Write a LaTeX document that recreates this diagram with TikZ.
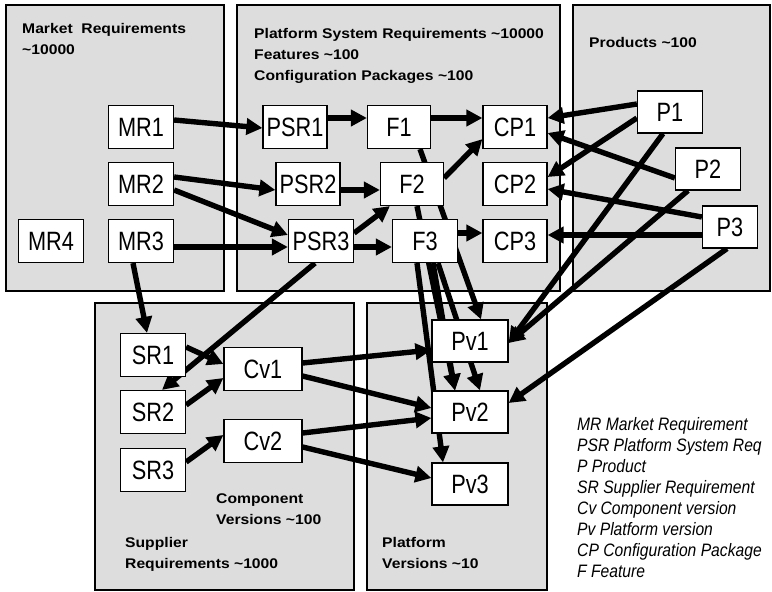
\documentclass[tikz,border=0pt]{standalone}
\usepackage{fontspec}
\setmainfont{Liberation Sans}
\newfontfamily\boxfont[FakeStretch=0.82]{Liberation Sans}
\newfontfamily\headfont[FakeStretch=1.12]{Liberation Sans}
\newfontfamily\keyfont[FakeStretch=0.87]{Liberation Sans}
\usetikzlibrary{arrows.meta,calc}
\definecolor{panelgray}{RGB}{221,221,221}
\pgfdeclarelayer{panels}
\pgfdeclarelayer{links}
\pgfsetlayers{panels,links,main}
\tikzset{
  box/.style={draw,fill=white,line width=1.2pt,inner sep=0pt,minimum height=43pt,minimum width=65pt,font=\boxfont\fontsize{26.5}{28}\selectfont},
  panel/.style={draw,fill=panelgray,line width=1.3pt},
  head/.style={anchor=north west,inner sep=0pt,align=left,font=\headfont\bfseries\fontsize{14}{21}\selectfont},
  key/.style={anchor=north west,inner sep=0pt,align=left,font=\keyfont\itshape\fontsize{18}{21}\selectfont},
  link/.style={line width=5.4pt,-{Triangle[length=16pt,width=16pt]}}
}
\begin{document}
\begin{tikzpicture}[x=1pt,y=-1pt]
\useasboundingbox (0,0) rectangle (772,592);
% the five areas
\begin{pgfonlayer}{panels}
\draw[panel] (6,5) rectangle (224,291);
\draw[panel] (237,5) rectangle (560,291);
\draw[panel] (573,5) rectangle (770,291);
\draw[panel] (95,303) rectangle (354,590);
\draw[panel] (367,303) rectangle (547,590);
\end{pgfonlayer}
\node[head] (mrhead) at (22,23) {Market\ \ Requirements\\\textasciitilde10000};
\node[head] (psrhead) at (254,28) {Platform System Requirements \textasciitilde10000\\Features \textasciitilde100\\Configuration Packages \textasciitilde100};
\node[head] (phead) at (589,37) {Products \textasciitilde100};
\node[head] (cvhead) at (216,494) {Component\\Versions \textasciitilde100};
\node[head] (srhead) at (125,537) {Supplier\\Requirements \textasciitilde1000};
\node[head] (pvhead) at (382,537) {Platform\\Versions \textasciitilde10};
% market requirements
\node[box] (MR1) at (141,127) {MR1};
\node[box] (MR2) at (141,184) {MR2};
\node[box] (MR3) at (141,241) {MR3};
\node[box] (MR4) at (51,241) {MR4};
% platform system requirements, features, packages
\node[box,minimum width=64pt] (PSR1) at (295,127) {PSR1};
\node[box,minimum width=64pt] (PSR2) at (308,184) {PSR2};
\node[box] (PSR3) at (321,241) {PSR3};
\node[box,minimum width=63pt] (F1) at (399,127) {F1};
\node[box,minimum width=63pt] (F2) at (412,184) {F2};
\node[box] (F3) at (425,241) {F3};
\node[box,minimum width=64pt] (CP1) at (515,127) {CP1};
\node[box,minimum width=64pt] (CP2) at (515,184) {CP2};
\node[box,minimum width=64pt] (CP3) at (515,241) {CP3};
% products
\node[box,minimum height=42pt] (P1) at (670,112) {P1};
\node[box,minimum height=42pt] (P2) at (708,169) {P2};
\node[box,minimum height=42pt,minimum width=55pt] (P3) at (730,227) {P3};
% supplier side
\node[box] (SR1) at (153,355) {SR1};
\node[box] (SR2) at (153,412) {SR2};
\node[box] (SR3) at (153,470) {SR3};
\node[box,minimum width=78pt] (Cv1) at (263,369) {Cv1};
\node[box,minimum width=78pt] (Cv2) at (263,441) {Cv2};
\node[box,minimum width=76pt,minimum height=42pt] (Pv1) at (470,341) {Pv1};
\node[box,minimum width=76pt,minimum height=42pt] (Pv2) at (470,412) {Pv2};
\node[box,minimum width=76pt,minimum height=42pt] (Pv3) at (470,484) {Pv3};
% legend
\node[key] (legend) at (577,417) {MR Market Requirement\\PSR Platform System Req\\P Product\\SR Supplier Requirement\\Cv Component version\\Pv Platform version\\CP Configuration Package\\F Feature};
\begin{pgfonlayer}{links}
\draw[link] ($(MR1.east)+(0,-7)$) -- ($(PSR1.west)+(0,1)$);
\draw[link] ($(MR2.east)+(0,-7)$) -- ($(PSR2.west)+(0,6)$);
\draw[link] ($(MR2.east)+(0,6)$) -- ($(PSR3.west)+(0,-6)$);
\draw[link] ($(MR3.east)+(0,6)$) -- ($(PSR3.west)+(0,6)$);
\draw[link] ($(MR3.south)+(-8,0)$) -- ($(SR1.north)+(-6,0)$);
\draw[link] ($(PSR3.south)+(-6,0)$) -- ($(SR2.north)+(9,0)$);
\draw[link] ($(PSR1.east)+(0,-9)$) -- ($(F1.west)+(0,-9)$);
\draw[link] ($(PSR2.east)+(0,6)$) -- ($(F2.west)+(0,6)$);
\draw[link] ($(PSR3.east)+(0,-8)$) -- ($(F2.south west)+(10,0)$);
\draw[link] ($(PSR3.east)+(0,6)$) -- ($(F3.west)+(0,6)$);
\draw[link] ($(F1.east)+(0,-9)$) -- ($(CP1.west)+(0,-9)$);
\draw[link] ($(F2.east)+(0,-6)$) -- ($(CP1.south west)+(0,-10)$);
\draw[link] ($(F3.east)+(0,-8)$) -- ($(CP3.west)+(0,-8)$);
\draw[link] ($(P1.west)+(0,-8)$) -- ($(CP1.east)+(0,-9)$);
\draw[link] ($(P1.west)+(0,6)$) -- ($(CP2.east)+(0,-7)$);
\draw[link] ($(P2.west)+(0,9)$) -- ($(CP1.east)+(0,6)$);
\draw[link] ($(P3.west)+(0,-10)$) -- ($(CP2.east)+(0,5)$);
\draw[link] ($(P3.west)+(0,8)$) -- ($(CP3.east)+(0,-6)$);
\draw[link] ($(P1.south)+(-7,0)$) -- ($(Pv1.east)+(0,2)$);
\draw[link] ($(P2.south)+(-20,0)$) -- ($(Pv1.east)+(0,2)$);
\draw[link] ($(P3.south)+(-3,0)$) -- ($(Pv2.east)+(0,-9)$);
\draw[link] ($(SR1.east)+(0,-8)$) -- ($(Cv1.west)+(0,-5)$);
\draw[link] ($(SR2.east)+(0,-7)$) -- ($(Cv1.west)+(0,9)$);
\draw[link] ($(SR3.east)+(0,-8)$) -- ($(Cv2.west)+(0,-6)$);
\draw[link] ($(Cv1.east)+(0,-6)$) -- ($(Pv1.west)+(0,9)$);
\draw[link] ($(Cv1.east)+(0,7)$) -- ($(Pv2.west)+(0,-4)$);
\draw[link] ($(Cv2.east)+(0,-8)$) -- ($(Pv2.west)+(0,6)$);
\draw[link] ($(Cv2.east)+(0,6)$) -- ($(Pv3.west)+(0,-6)$);
\draw[link] ($(F1.south)+(21,0)$) -- ($(Pv1.north)+(11,0)$);
\draw[link] ($(F2.south)+(5,0)$) -- ($(Pv2.north)+(-15,0)$);
\draw[link] ($(F3.south)+(-8,0)$) -- ($(Pv3.north)+(-27,0)$);
\draw[link] ($(F3.south)+(8,0)$) -- ($(Pv2.north)+(-15,0)$);
\draw[link] ($(F3.south)+(13,0)$) -- ($(Pv2.north)+(10,0)$);
\end{pgfonlayer}
\end{tikzpicture}
\end{document}
